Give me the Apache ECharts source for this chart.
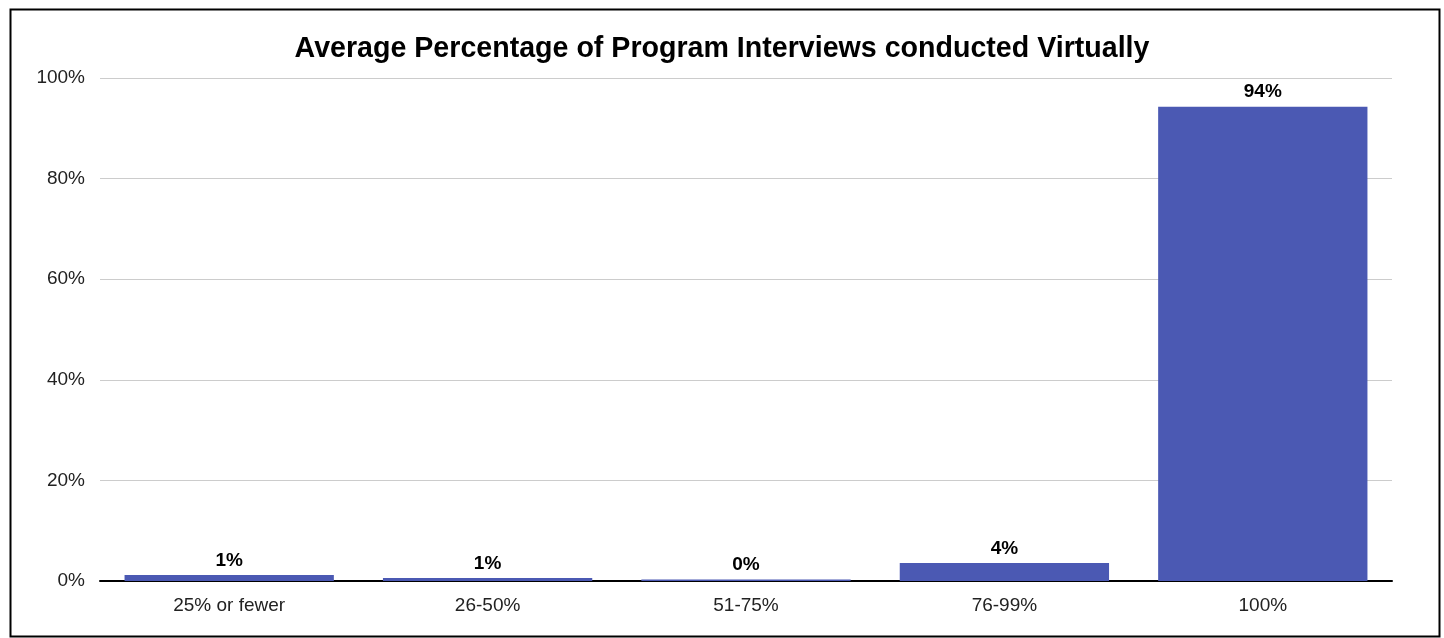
<!DOCTYPE html>
<html><head><meta charset="utf-8">
<script src="https://cdn.jsdelivr.net/npm/echarts@6/dist/echarts.min.js"></script>
<style>html,body{margin:0;padding:0;background:#fff}#c{width:1444px;height:638px}</style>
</head><body><div id="c"></div>
<script>
const categories = ['25% or fewer', '26-50%', '51-75%', '76-99%', '100%'];
const values = [1.2, 0.6, 0.3, 3.6, 94.3];
const titleText = 'Average Percentage of Program Interviews conducted Virtually';

const chart = echarts.init(document.getElementById('c'), null, {renderer: 'canvas'});
const font = '"Liberation Sans", Arial, sans-serif';
chart.setOption({
  animation: false,
  textStyle: {fontFamily: font},
  title: {
    text: titleText, left: 'center', top: 30,
    textStyle: {fontFamily: font, fontSize: 28.6, fontWeight: 'bold', color: '#000'}
  },
  graphic: [{
    type: 'rect', left: 8, top: 7, z: 100,
    shape: {width: 1429, height: 627},
    style: {fill: 'none', stroke: '#000', lineWidth: 2}
  }],
  grid: {left: 100, right: 52, top: 78, bottom: 57},
  xAxis: {
    type: 'category', data: categories,
    axisLine: {show: true, lineStyle: {color: '#000', width: 2}},
    axisTick: {show: false},
    axisLabel: {color: '#222', fontSize: 19, margin: 15, fontFamily: font}
  },
  yAxis: {
    type: 'value', min: 0, max: 100, interval: 20,
    axisLine: {show: false}, axisTick: {show: false},
    splitLine: {lineStyle: {color: '#cccccc', width: 1}},
    axisLabel: {color: '#222', fontSize: 19, margin: 15, fontFamily: font, formatter: v => v + '%'}
  },
  series: [{
    type: 'bar', data: values, barCategoryGap: '19%',
    itemStyle: {color: '#4b59b3'},
    label: {
      show: true, position: 'top', distance: 5,
      color: '#000', fontWeight: 'bold', fontSize: 19, fontFamily: font,
      formatter: p => Math.round(p.value) + '%'
    }
  }]
});
</script></body></html>
